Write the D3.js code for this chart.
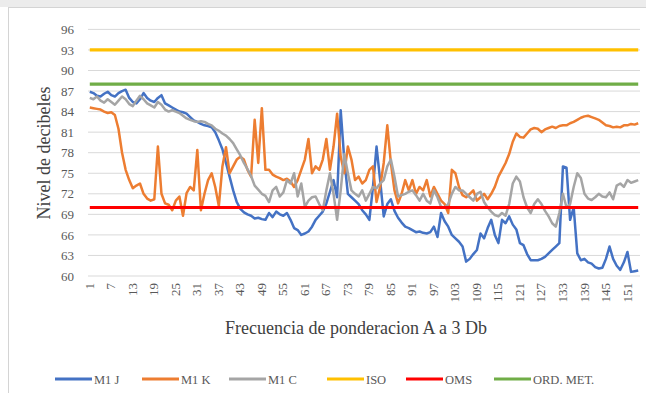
<!DOCTYPE html>
<html><head><meta charset="utf-8">
<script src="https://cdn.jsdelivr.net/npm/d3@7"></script>
<style>body{margin:0;background:#fff}svg{display:block}text{font-family:"Liberation Serif","Times New Roman",serif}</style>
</head><body><svg id="c" width="646" height="393"></svg>
<script>
const categories = d3.range(1, 155);
const m1j = [86.9,86.7,86.3,86.2,86.6,86.9,86.4,86.2,86.7,87.0,87.2,86.0,85.4,85.2,85.8,86.7,86.0,85.6,85.4,86.0,
86.4,85.2,84.9,84.6,84.3,84.0,83.9,83.7,83.2,82.7,82.5,82.2,82.0,81.9,81.7,81.0,79.8,78.5,76.5,74.5,
72.5,70.8,69.8,69.3,69.0,68.8,68.4,68.5,68.3,68.2,69.2,68.6,69.4,69.0,68.8,69.2,68.2,67.0,66.7,66.0,
66.2,66.5,67.2,68.2,68.8,69.4,70.6,72.3,74.0,71.5,84.2,77.0,72.0,71.5,71.0,70.5,69.6,69.0,68.2,73.0,
78.9,74.0,68.7,70.5,71.2,69.5,68.5,67.8,67.2,67.0,66.7,66.4,66.5,66.3,66.2,66.4,67.2,65.7,69.2,68.0,
67.2,66.0,65.5,65.0,64.3,62.1,62.5,63.2,63.8,66.2,65.5,67.0,68.2,66.0,64.8,68.2,67.7,68.7,67.5,66.8,
64.8,64.5,63.2,62.3,62.3,62.3,62.5,62.8,63.3,63.8,64.3,64.8,76.0,75.8,68.2,70.0,63.3,62.3,62.5,62.0,
61.8,61.3,61.1,61.2,62.5,64.3,62.5,61.5,60.9,62.0,63.5,60.6,60.7,60.8];
const m1k = [84.6,84.5,84.4,84.3,84.0,83.8,83.9,83.5,81.5,78.0,75.5,74.0,72.8,73.2,73.5,72.0,71.3,71.0,71.2,78.9,
72.0,70.6,70.4,69.6,71.0,71.6,68.8,72.1,73.0,72.5,78.4,69.6,72.0,74.0,75.0,73.0,70.2,76.0,78.8,75.0,
76.0,77.0,77.4,77.0,75.5,74.5,82.8,76.5,84.5,75.5,75.5,74.8,74.5,74.3,74.0,74.2,73.8,73.0,74.0,75.5,
77.0,80.0,75.0,76.0,75.5,77.0,80.0,75.5,78.9,83.7,77.4,75.0,78.9,77.0,74.0,74.5,73.5,74.0,75.5,76.0,
70.8,73.0,76.5,82.0,76.5,72.5,70.6,72.0,74.0,72.5,74.0,72.0,73.0,72.5,74.0,71.6,73.0,72.0,71.0,70.5,
69.2,75.5,75.0,73.0,71.8,71.5,72.0,72.5,71.0,71.5,72.0,71.2,72.0,73.0,74.5,75.5,76.5,77.8,79.6,80.8,
80.3,80.2,80.8,81.4,81.6,81.5,81.0,81.4,81.6,81.8,81.6,81.9,82.0,82.0,82.3,82.5,82.8,83.1,83.3,83.4,
83.2,83.0,82.8,82.4,82.0,81.9,81.7,81.8,81.7,82.0,82.0,82.2,82.1,82.3];
const m1c = [86.0,85.8,86.2,85.6,85.3,85.8,85.4,85.0,85.6,86.2,85.8,85.1,84.8,85.6,86.3,85.8,85.2,84.9,84.6,85.4,
85.0,84.3,84.0,84.2,84.0,83.8,83.4,83.0,82.8,82.6,82.5,82.6,82.5,82.2,82.0,81.5,81.2,80.8,80.5,80.0,
79.4,78.5,77.6,76.5,75.6,74.6,73.2,72.6,72.0,71.7,70.8,72.5,73.0,71.6,72.2,74.0,73.5,75.0,71.6,73.5,
70.1,71.0,71.5,71.6,70.5,69.6,72.5,75.0,72.0,68.2,72.5,77.8,75.0,72.5,72.0,71.6,72.5,71.0,72.0,73.0,
72.8,73.5,74.0,76.0,77.0,74.5,71.6,71.8,72.0,72.3,72.5,71.8,71.0,72.0,71.0,70.6,72.5,71.5,70.1,70.0,
70.5,72.0,73.0,72.5,72.5,72.0,71.5,71.0,72.0,72.3,70.8,70.0,69.4,68.9,68.7,69.2,68.8,70.5,73.5,74.5,
73.8,71.5,70.0,69.2,70.5,71.2,70.5,69.5,68.7,67.7,67.2,69.2,72.0,70.0,70.5,73.0,75.0,74.3,72.0,71.3,
71.1,71.5,72.0,71.6,71.5,72.2,71.2,73.2,73.5,73.0,74.0,73.6,73.8,74.0];
const isoLevel = 93, omsLevel = 70, ordLevel = 88;
const yTicks = [60,63,66,69,72,75,78,81,84,87,90,93,96];
const xTickLabels = categories.filter((d,i) => i % 6 === 0);
const seriesNames = ["M1 J","M1 K","M1 C","ISO","OMS","ORD. MET."];
const colors = ["#4472c4","#ed7d31","#a5a5a5","#ffc000","#ff0000","#70ad47"];

const svg = d3.select("#c");
svg.append("rect").attr("x",0).attr("y",0).attr("width",646).attr("height",7).attr("fill","#ececec");
svg.append("rect").attr("x",8.5).attr("y",7.5).attr("width",660).attr("height",400).attr("fill","#fff").attr("stroke","#d4d4d4");

const x = d3.scaleBand().domain(categories).range([88,640]).padding(0);
const cx = d => x(d) + x.bandwidth()/2;
const y = d3.scaleLinear().domain([60,96]).range([276,29.4]);

svg.append("g").selectAll("line").data(yTicks).join("line")
  .attr("x1",88).attr("x2",640).attr("y1",d=>y(d)).attr("y2",d=>y(d))
  .attr("stroke","#d9d9d9").attr("stroke-width",1);

const yAxis = svg.append("g").attr("transform","translate(88,0)")
  .call(d3.axisLeft(y).tickValues(yTicks).tickSize(0).tickPadding(14));
yAxis.select(".domain").remove();
yAxis.selectAll("text").attr("font-size",13).attr("fill","#595959").style("font-family","Liberation Serif");

const xAxis = svg.append("g").attr("transform","translate(0,276)")
  .call(d3.axisBottom(x).tickValues(xTickLabels).tickSize(0));
xAxis.select(".domain").remove();
xAxis.selectAll("text").attr("font-size",13).attr("fill","#595959").style("font-family","Liberation Serif")
  .attr("text-anchor","end").attr("transform","rotate(-90)").attr("x",-7).attr("y",-0.5).attr("dy","0.35em");

const line = d3.line().x((d,i)=>cx(categories[i])).y(d=>y(d));
[m1j, m1k, m1c].forEach((s,k)=>{
  svg.append("path").datum(s).attr("d",line).attr("fill","none")
    .attr("stroke",colors[k]).attr("stroke-width",2.5).attr("stroke-linejoin","round");
});
[isoLevel, omsLevel, ordLevel].forEach((lv,k)=>{
  svg.append("path").datum(categories.map(()=>lv)).attr("d",line).attr("fill","none")
    .attr("stroke",colors[k+3]).attr("stroke-width",3.2);
});

svg.append("text").attr("transform","translate(50,153) rotate(-90)").attr("text-anchor","middle")
  .attr("font-size",18).attr("fill","#404040").text("Nivel de decibeles");
svg.append("text").attr("x",356).attr("y",334).attr("text-anchor","middle")
  .attr("font-size",18).attr("fill","#404040").text("Frecuencia de ponderacion A a 3 Db");

const legendX = [55,142,229,327,406,494];
const lg = svg.append("g");
seriesNames.forEach((n,i)=>{
  lg.append("line").attr("x1",legendX[i]).attr("x2",legendX[i]+37).attr("y1",379).attr("y2",379)
    .attr("stroke",colors[i]).attr("stroke-width",3);
  lg.append("text").attr("x",legendX[i]+39).attr("y",383.5).attr("font-size",12.5).attr("fill","#595959").text(n);
});
</script></body></html>
